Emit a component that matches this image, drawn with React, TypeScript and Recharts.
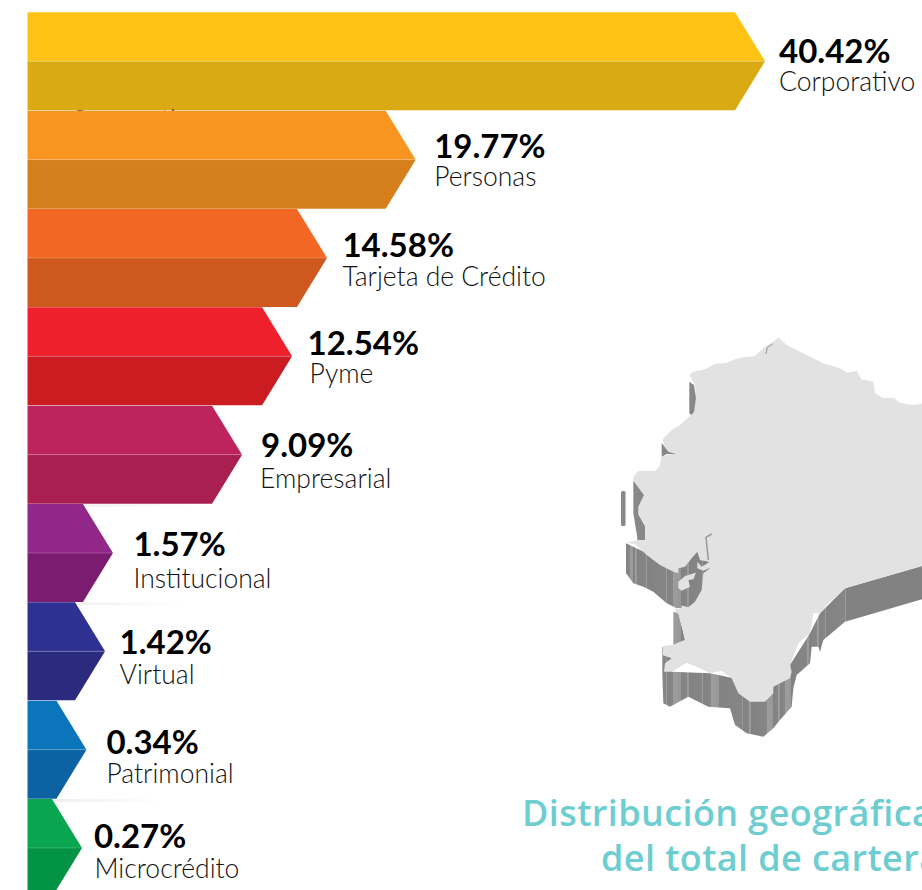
import React from "react";
import { BarChart, Bar, XAxis, YAxis, LabelList } from "recharts";

// Categories and the printed shares
const categories = ["Corporativo", "Personas", "Tarjeta de Crédito", "Pyme", "Empresarial", "Institucional", "Virtual", "Patrimonial", "Microcrédito"];
const shares = [40.42, 19.77, 14.58, 12.54, 9.09, 1.57, 1.42, 0.34, 0.27];
// The arrows in the picture are not proportional to the printed shares: drawn lengths, in axis units
const drawnLengths = [42.9, 22.58, 17.42, 15.39, 12.48, 4.97, 4.51, 3.43, 3.17];

const topColors = ["#FEC315", "#F89420", "#F26724", "#EE202B", "#BD245D", "#92278A", "#2E3192", "#0B75BC", "#0AA64F"];
const bottomColors = ["#DAAA15", "#D5801C", "#CE581E", "#CB1C22", "#A81F50", "#7C1C70", "#2A2B7E", "#0D62A4", "#029344"];

// Label placement, relative to the arrow's tip and mid line
const labelDx = [14, 18.5, 15.5, 15.5, 19, 20.5, 14.5, 20, 12];
const nameDx = [0, 0, 0, 2, -1, 0, 0, 0, 0.5];
const valueDy = [2, -1.5, -1, -1.5, 2.5, 3, 2.5, 4.5, 0];
const nameDy = [30, 26.5, 28, 26.5, 33.5, 35, 32.5, 33.5, 30];
const shadowRows = [5, 6, 8];

const TIP = 30;
const FONT = "Lato, 'Noto Sans', sans-serif";
const TITLE_FONT = "'Open Sans', Lato, sans-serif";

const data = categories.map((name, i) => ({ name, share: shares[i], length: drawnLengths[i] }));

function Arrow(props: any) {
  const { x, y, width, height, index } = props;
  const mid = y + height / 2;
  const right = x + width;
  const top = `${x},${y} ${right - TIP},${y} ${right},${mid} ${x},${mid}`;
  const bottom = `${x},${mid} ${right},${mid} ${right - TIP},${y + height} ${x},${y + height}`;
  return (
    <g>
      {shadowRows.includes(index) ? (
        <rect x={x} y={y} width={width + 80} height={3} fill="url(#rowShadow)" />
      ) : null}
      <polygon points={top} fill={topColors[index]} />
      <polygon points={bottom} fill={bottomColors[index]} />
      <line x1={x} x2={right} y1={mid} y2={mid} stroke="#fff" strokeOpacity={0.2} strokeWidth={1} />
      {index === 0 ? (
        <text x={x + 42} y={y + height + 18} fontFamily={FONT} fontSize={26} fontWeight={300} fill="#6b5a14">Corporativo</text>
      ) : null}
    </g>
  );
}

function RowLabel(props: any) {
  const { x, y, width, height, index } = props;
  const tx = x + width + labelDx[index];
  const mid = y + height / 2;
  return (
    <g>
      <text x={tx} y={mid + valueDy[index]} fontFamily={FONT} fontWeight={700} fontSize={33} fill="#000">
        {shares[index].toFixed(2)}%
      </text>
      <text x={tx + nameDx[index]} y={mid + nameDy[index]} fontFamily={FONT} fontWeight={300} fontSize={26.5} fill="#111">
        {categories[index]}
      </text>
    </g>
  );
}

const mp = (pts: number[][]) => pts.map(([a, b]) => `${610 + a / 3},${530 + b / 3}`).join(" ");
const up = (pts: number[][]) => pts.map(([a, b]) => `${610 + a / 3},${330 + b / 3}`).join(" ");

const surface = [
  ...[[505,22],[530,45],[560,60],[600,80],[640,100],[690,115],[710,128],[740,123],[755,148],[790,155],[795,190],[820,205],[850,203],[870,218],[905,225],[945,220]].map(([a, b]) => [a, b - 600]),
  [945, 105],[705,175],[650,225],[630,250],[610,250],[600,310],[565,340],[540,405],[545,425],[540,445],[490,470],[490,490],[465,515],[420,515],[385,490],[365,445],[335,422],[300,430],[270,415],[230,398],[185,425],[162,425],[165,400],[185,385],[157,375],[160,347],[190,345],[225,330],[218,300],[205,250],[190,240],[215,235],[205,130],[190,125],[150,105],[110,75],[75,42],[50,38],[85,30],[100,25],[105,-10],
  ...[[105,590],[85,555],[85,530],[102,495],[70,452],[70,440],[85,423],[135,422],[148,410],[155,380],[170,375],[200,373],[175,365],[163,345],[158,328],[185,300],[210,285],[240,258],[250,250],[258,205],[255,165],[238,135],[250,125],[285,118],[315,102],[350,98],[375,88],[400,82],[435,78],[465,50],[490,35]].map(([a, b]) => [a, b - 600]),
];

const walls = [
  [[48,40],[48,130],[70,160],[100,170],[130,185],[170,220],[200,235],[235,232],[265,215],[285,170],[300,110],[205,115]],
  [[157,350],[157,430],[160,520],[180,530],[235,500],[265,515],[295,530],[360,535],[375,585],[410,610],[460,620],[490,595],[510,570],[545,530],[550,475],[560,435],[600,400],[605,350],[625,350],[630,365],[640,330],[705,275],[945,205],[945,105],[705,175],[630,250],[600,310],[540,405],[490,470],[300,430],[185,425],[195,385]],
  [[190,245],[190,345],[225,330],[218,300],[205,250]],
  [[83,0],[83,32],[100,25],[105,-10],[105,-40],[85,-45],[83,-20]],
];
const upperStrips = [
  [[238,155],[238,250],[245,255],[252,245],[258,205],[252,165]],
  [[70,452],[70,550],[83,630],[105,630],[105,590],[85,555],[85,530],[102,495]],
  [[155,338],[155,380],[170,372],[200,373],[175,365]],
];

// Light vertical bands on the map's wall, as [from, to] across the wall gradient
const wallBands = [[60,68],[76,80],[108,112],[168,172],[188,212],[230,236],[275,280],[302,326],[395,398],[418,422],[470,488],[505,509],[525,543],[590,598],[622,626],[645,648],[705,709]];

function wallStops() {
  const stops: React.ReactElement[] = [];
  wallBands.forEach(([a, b], i) => {
    const f = (v: number) => v / 936;
    stops.push(<stop key={`${i}a`} offset={f(a)} stopColor="#868686" />);
    stops.push(<stop key={`${i}b`} offset={f(a + 0.5)} stopColor="#9e9e9e" />);
    stops.push(<stop key={`${i}c`} offset={f(b - 0.5)} stopColor="#989898" />);
    stops.push(<stop key={`${i}d`} offset={f(b)} stopColor="#828282" />);
  });
  return stops;
}

function MapAndTitle() {
  return (
    <svg width={922} height={890} style={{ position: "absolute", left: 0, top: 0 }}>
      <defs>
        <linearGradient id="wall" gradientUnits="userSpaceOnUse" x1={610} x2={922} y1={0} y2={0}>
          {wallStops()}
        </linearGradient>
      </defs>
      <rect x={621} y={491} width={4.5} height={35} rx={1.5} fill="#888" />
      {walls.map((w, i) => <polygon key={i} points={mp(w)} fill="url(#wall)" />)}
      <polygon points={mp(surface)} fill="#E2E2E2" />
      {upperStrips.map((w, i) => <polygon key={i} points={up(w)} fill="#888" />)}
      <polygon points={mp([[205,115],[225,110],[245,85],[262,65],[270,90],[295,95],[300,115],[280,130],[275,180],[255,215],[235,232],[210,225],[205,180]])} fill="url(#wall)" />
      <polygon points={mp([[205,155],[225,138],[258,128],[250,148],[235,150],[240,170],[215,182],[205,175]])} fill="#E2E2E2" />
      <polygon points={mp([[262,95],[275,110],[300,95],[315,100],[305,112],[280,122],[262,115]])} fill="#E2E2E2" />
      <polyline points={mp([[305,12],[288,22],[292,60],[295,90]])} fill="none" stroke="#9a9a9a" strokeWidth={1.5} />
      <polyline points={up([[468,72],[472,52],[488,42]])} fill="none" stroke="#999" strokeWidth={1} />
      <text x={522} y={826} fontFamily={TITLE_FONT} fontWeight={600} fontSize={36} letterSpacing={0.4} fill="#6DCDD0">Distribución geográfica</text>
      <text x={601} y={871} fontFamily={TITLE_FONT} fontWeight={600} fontSize={36} letterSpacing={0.4} fill="#6DCDD0">del total de cartera</text>
    </svg>
  );
}

export default function App() {
  return (
    <div style={{ position: "fixed", left: 0, top: 0, width: 922, height: 890, overflow: "hidden", background: "#fff" }}>
      <MapAndTitle />
      <div style={{ position: "absolute", left: 0, top: 0 }}>
        <BarChart
          width={922}
          height={900}
          data={data}
          layout="vertical"
          barCategoryGap={0}
          margin={{ top: 12.3, right: 0.5, bottom: 2.7, left: 27.5 }}
        >
          <defs>
            <linearGradient id="rowShadow" x1="0" x2="1" y1="0" y2="0">
              <stop offset={0} stopColor="#000" stopOpacity={0.08} />
              <stop offset={1} stopColor="#000" stopOpacity={0} />
            </linearGradient>
          </defs>
          <XAxis type="number" hide domain={[0, 52]} />
          <YAxis type="category" hide dataKey="name" />
          <Bar dataKey="length" isAnimationActive={false} shape={Arrow}>
            <LabelList dataKey="share" content={RowLabel} />
          </Bar>
        </BarChart>
      </div>
    </div>
  );
}
